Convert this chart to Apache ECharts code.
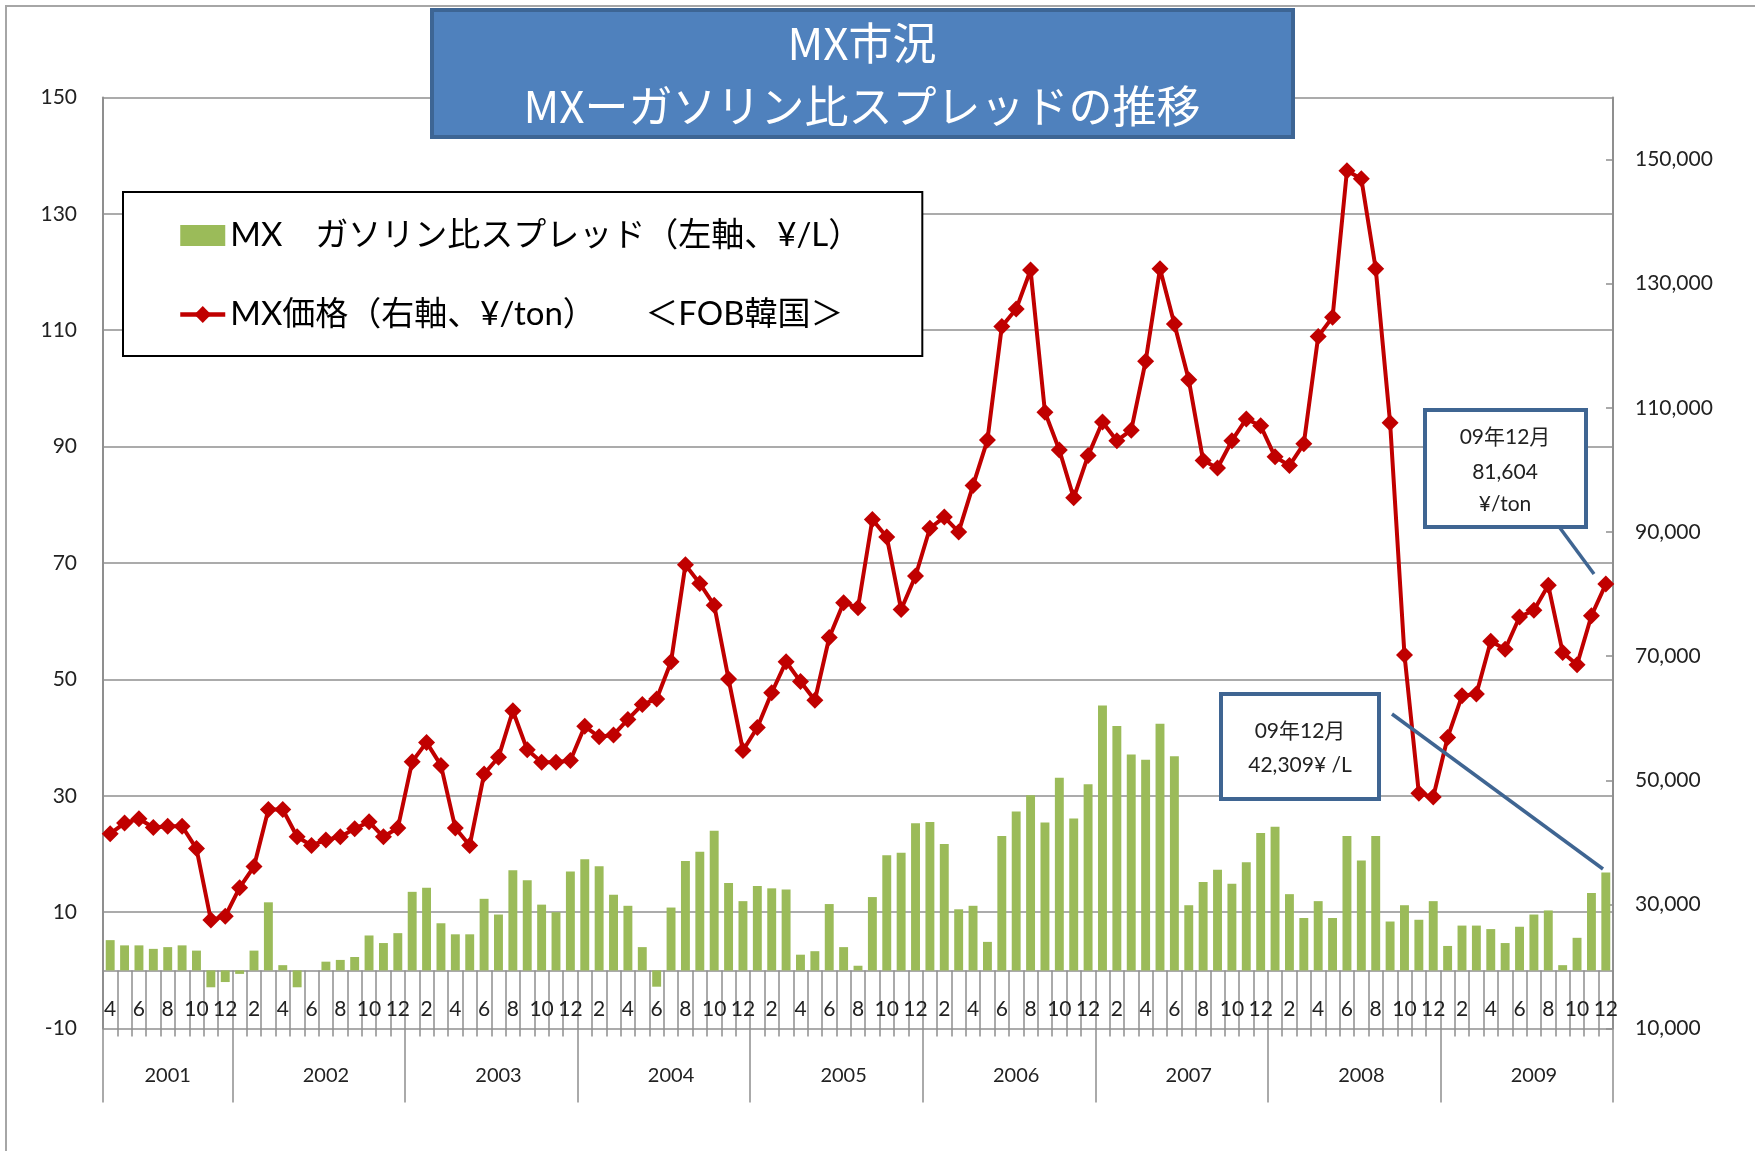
<!DOCTYPE html>
<html><head><meta charset="utf-8">
<script src="https://cdn.jsdelivr.net/npm/echarts@6/dist/echarts.min.js"></script>
<style>html,body{margin:0;padding:0;background:#fff}#c{width:1755px;height:1151px}</style>
</head><body><div id="c"></div>
<script>
// ---- data ----
const years = ['2001','2002','2003','2004','2005','2006','2007','2008','2009'];
const firstMonthOfYear = [4,1,1,1,1,1,1,1,1];
const barName = 'MX\u3000ガソリン比スプレッド（左軸、¥/L）';
const lineName = 'MX価格（右軸、¥/ton）\u3000\u3000＜FOB韓国＞';

// MX - gasoline spread (¥/L), Apr 2001 .. Dec 2009
const spread = [
  5.2,4.3,4.3,3.7,4.0,4.3,3.4,-2.9,-2.0,
  -0.6,3.4,11.7,0.9,-2.9,0,1.5,1.8,2.3,6.0,4.7,6.4,
  13.5,14.2,8.1,6.2,6.2,12.3,9.6,17.2,15.5,11.3,10.0,17.0,
  19.1,17.9,13.0,11.1,4.0,-2.8,10.8,18.8,20.4,24.0,15.0,11.9,
  14.5,14.1,13.9,2.7,3.3,11.4,4.0,0.8,12.6,19.8,20.2,25.3,
  25.5,21.7,10.5,11.1,4.9,23.1,27.3,30.1,25.4,33.1,26.1,32.0,
  45.5,42.0,37.1,36.2,42.4,36.8,11.2,15.2,17.3,14.9,18.6,23.6,
  24.7,13.1,9.0,11.9,9.0,23.1,18.9,23.1,8.4,11.2,8.7,11.9,
  4.2,7.7,7.7,7.1,4.7,7.5,9.6,10.3,0.9,5.6,13.3,16.8
];
// MX price FOB Korea (¥/ton)
const price = [
  41400,43100,43800,42400,42600,42600,39000,27500,28100,
  32700,36100,45300,45300,40900,39500,40400,40900,42200,43300,40900,42300,
  53000,56100,52400,42300,39500,51000,53700,61200,54900,52900,52900,53200,
  58700,57000,57300,59800,62200,63100,69100,84700,81700,78200,66300,54800,
  58500,64100,69100,65900,62900,73000,78600,77800,92000,89200,77500,82900,
  90600,92400,90000,97500,104800,123100,125900,132200,109300,103200,95500,102300,
  107700,104700,106400,117500,132400,123500,114500,101500,100300,104700,108200,107100,
  102100,100700,104200,121500,124600,148200,146900,132400,107600,70200,47900,47300,
  56900,63600,63900,72400,71100,76300,77400,81400,70600,68600,76500,81604
];
const leftTicks = {min:-10, max:150, interval:20};
const rightTicks = {min:10000, max:160000, interval:20000};

// ---- categories ----
const monthCats = [], yearCats = [], yearStart = [], yearLabelIdx = [];
years.forEach((y, k) => {
  yearStart.push(monthCats.length);
  const n = 12 - firstMonthOfYear[k] + 1;
  yearLabelIdx.push(monthCats.length + (n === 12 ? 6 : Math.floor(n / 2)));
  for (let m = firstMonthOfYear[k]; m <= 12; m++) { monthCats.push(String(m)); yearCats.push(y); }
});

const gray = '#8f8f8f';
const numFont = 'Lato';
const jpFont = 'Lato, "Noto Sans CJK JP"';
const gridTop = 97.4, gridBottom = 122.4, chartH = 1151;
// distance from bottom of plot (value -10) up to value 0, for the month axis
const zeroOffset = (chartH - gridTop - gridBottom) * (0 - leftTicks.min) / (leftTicks.max - leftTicks.min);

const chart = echarts.init(document.getElementById('c'), null, {renderer:'canvas'});
chart.setOption({
  animation:false,
  backgroundColor:'#fff',
  grid:{left:103, right:142, top:gridTop, bottom:gridBottom},
  legend:{
    orient:'vertical', left:123, top:192,
    padding:[27,61,25,55], itemGap:46, itemWidth:45, itemHeight:21,
    backgroundColor:'#fff', borderColor:'#000', borderWidth:2,
    textStyle:{fontSize:33, fontFamily:jpFont, color:'#000'},
    lineStyle:{width:4.5},
    data:[{name:barName, icon:'rect'}, {name:lineName}]
  },
  xAxis:[
    { type:'category', data:monthCats, position:'bottom', offset:-zeroOffset,
      axisLine:{show:true, onZero:false, lineStyle:{color:gray, width:1.5}},
      axisTick:{show:true, interval:0, length:66, lineStyle:{color:gray, width:1.5}},
      axisLabel:{show:true, interval:1, margin:28, fontSize:21, fontFamily:numFont, color:'#222'} },
    { type:'category', data:yearCats, position:'bottom',
      axisLine:{show:false, onZero:false},
      axisTick:{show:true, interval:(i)=>yearStart.indexOf(i) >= 0, length:74, lineStyle:{color:gray, width:1.5}},
      axisLabel:{show:true, interval:(i)=>yearLabelIdx.indexOf(i) >= 0, margin:37, fontSize:20, fontFamily:numFont, color:'#222'} }
  ],
  yAxis:[
    { type:'value', position:'left', min:leftTicks.min, max:leftTicks.max, interval:leftTicks.interval,
      axisLine:{show:true, lineStyle:{color:gray, width:2}},
      axisTick:{show:false},
      splitLine:{show:true, lineStyle:{color:gray, width:1.5}},
      axisLabel:{margin:26, fontSize:21, fontFamily:numFont, color:'#222'} },
    { type:'value', position:'right', min:rightTicks.min, max:rightTicks.max, interval:rightTicks.interval,
      axisLine:{show:true, lineStyle:{color:gray, width:2}},
      axisTick:{show:true, inside:true, length:7, lineStyle:{color:gray, width:1.5}},
      splitLine:{show:false},
      axisLabel:{margin:22, fontSize:21, fontFamily:numFont, color:'#222', showMaxLabel:false,
        formatter:(v)=> v > 150000 ? '' : v.toLocaleString('en-US')} }
  ],
  series:[
    { name:barName, type:'bar', xAxisIndex:0, yAxisIndex:0, data:spread,
      barWidth:'62%', itemStyle:{color:'#9bbb59'}, z:2 },
    { name:lineName, type:'line', xAxisIndex:0, yAxisIndex:1, data:price,
      symbol:'diamond', symbolSize:17, showAllSymbol:true,
      lineStyle:{color:'#c00000', width:4}, itemStyle:{color:'#c00000'}, z:3 }
  ],
  graphic:[
    { type:'rect', z:0, silent:true, shape:{x:6, y:6, width:1800, height:1200},
      style:{fill:'none', stroke:'#a6a6a6', lineWidth:2} },
    { type:'rect', z:100, shape:{x:432, y:10, width:861, height:127},
      style:{fill:'#4f81bd', stroke:'#3d6594', lineWidth:4} },
    { type:'text', z:101, x:862, y:43, style:{text:'MX市況', fill:'#fff', font:'44px "Noto Sans CJK JP"', textAlign:'center', textVerticalAlign:'middle'} },
    { type:'text', z:101, x:862, y:106, style:{text:'MXーガソリン比スプレッドの推移', fill:'#fff', font:'44px "Noto Sans CJK JP"', textAlign:'center', textVerticalAlign:'middle'} },

    { type:'rect', z:100, shape:{x:1425, y:410, width:161, height:117},
      style:{fill:'#fff', stroke:'#3f6592', lineWidth:4} },
    { type:'text', z:101, x:1505, y:437, style:{text:'09年12月', fill:'#222', font:'21px Lato, "Noto Sans CJK JP"', textAlign:'center', textVerticalAlign:'middle'} },
    { type:'text', z:101, x:1505, y:472, style:{text:'81,604', fill:'#222', font:'21px Lato, "Noto Sans CJK JP"', textAlign:'center', textVerticalAlign:'middle'} },
    { type:'text', z:101, x:1505, y:504, style:{text:'¥/ton', fill:'#222', font:'21px Lato, "Noto Sans CJK JP"', textAlign:'center', textVerticalAlign:'middle'} },
    { type:'line', z:100, shape:{x1:1560, y1:528, x2:1594, y2:574}, style:{stroke:'#3f6592', lineWidth:3.5} },

    { type:'rect', z:100, shape:{x:1221, y:694, width:158, height:105},
      style:{fill:'#fff', stroke:'#3f6592', lineWidth:4} },
    { type:'text', z:101, x:1300, y:731, style:{text:'09年12月', fill:'#222', font:'21px Lato, "Noto Sans CJK JP"', textAlign:'center', textVerticalAlign:'middle'} },
    { type:'text', z:101, x:1300, y:765, style:{text:'42,309¥ /L', fill:'#222', font:'21px Lato, "Noto Sans CJK JP"', textAlign:'center', textVerticalAlign:'middle'} },
    { type:'line', z:100, shape:{x1:1392, y1:714, x2:1603, y2:869}, style:{stroke:'#3f6592', lineWidth:3.5} }
  ]
});
</script></body></html>
